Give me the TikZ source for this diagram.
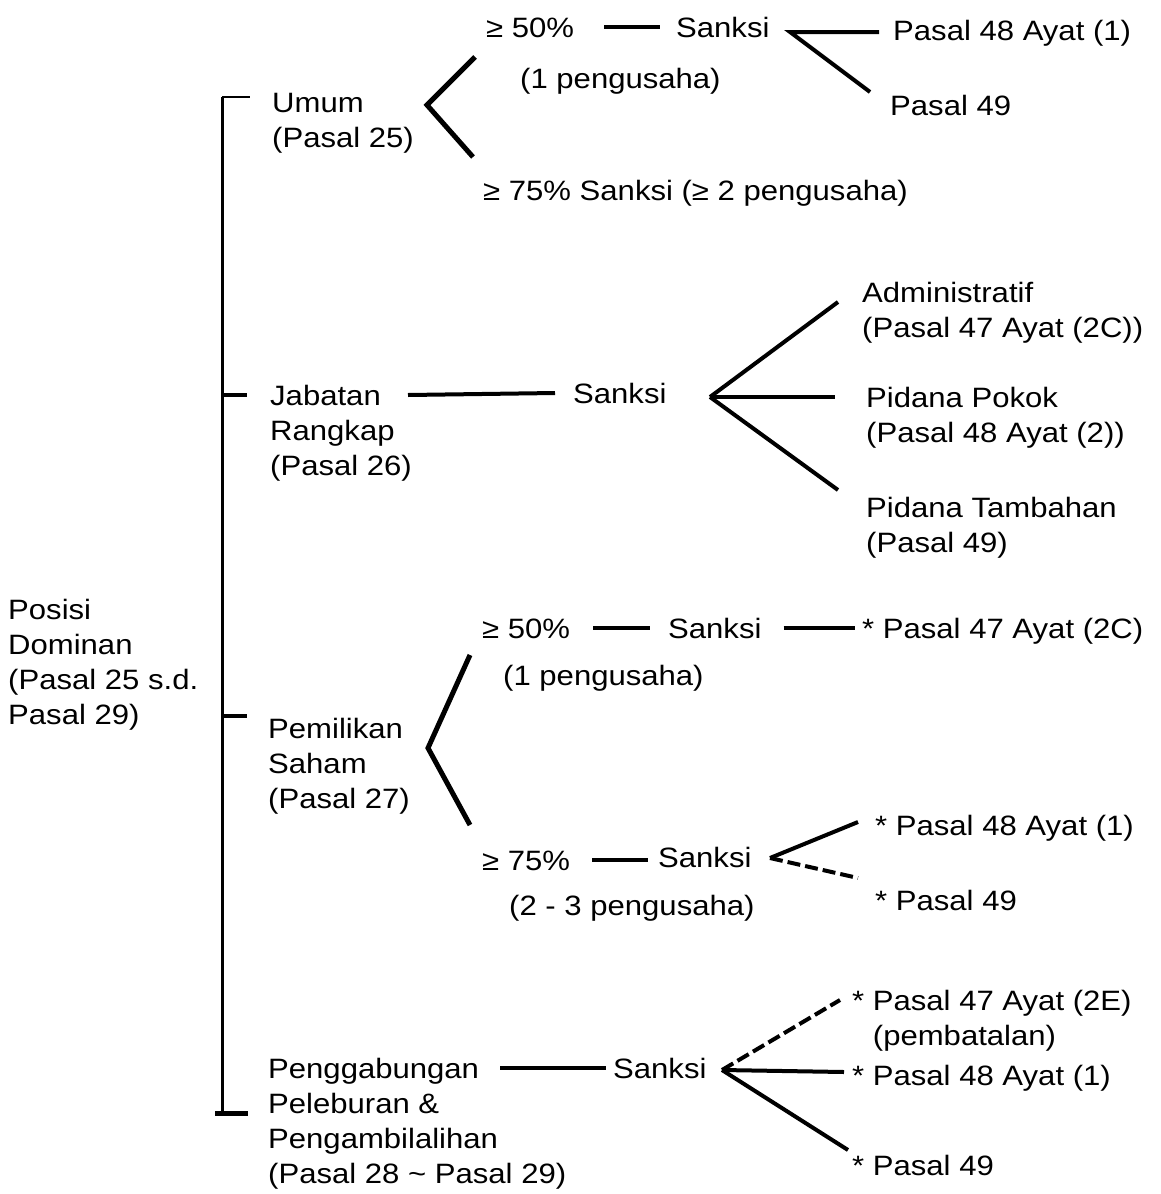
\documentclass[tikz,border=0pt]{standalone}
\usepackage{fontspec}
\setmainfont{Liberation Sans}[FakeStretch=1.11]
\begin{document}
\begin{tikzpicture}[x=1pt,y=-1pt,
    font=\fontsize{28}{35}\selectfont,
    txt/.style={anchor=base west,inner sep=0pt,align=left},
    ln/.style={line width=4pt},
    brk/.style={line width=5pt,line join=miter},
    brk2/.style={ln,dash pattern=on 13pt off 5pt}]
    \useasboundingbox (0,0) rectangle (1160,1194);

    % left column and trunk (multi-line nodes sit on their last baseline)
    \node[txt] (pos) at (8,724) {Posisi\\Dominan\\(Pasal 25 s.d.\\Pasal 29)};
    \coordinate (ttop) at (222,97);
    \coordinate (tbot) at (222,1113);
    \draw[line width=3pt] (ttop) -- (tbot);
    \draw[line width=2pt] (ttop) -- ++(28,0);
    \foreach \y in {395,716}{
        \draw[ln] (222,\y) -- ++(25,0);
    }
    \draw[brk] (tbot) ++(-7,0) -- ++(33,0);

    % Umum
    \node[txt] (umum) at (272,147) {Umum\\(Pasal 25)};
    \node[txt] (u50) at (486,37) {≥ 50\%};
    \node[txt] (u1p) at (520,88) {(1 pengusaha)};
    \node[txt] (usanksi) at (676,37) {Sanksi};
    \node[txt] (u48) at (893,40) {Pasal 48 Ayat (1)};
    \node[txt] (u49) at (890,115) {Pasal 49};
    \node[txt] (u75) at (483,200) {≥ 75\% Sanksi (≥ 2 pengusaha)};
    \coordinate (uapex) at (427,105);
    \draw[brk] ([shift={(-11,20)}]u50.base west) -- (uapex) -- ([shift={(-10,-43)}]u75.base west);
    \draw[ln] ([xshift=30pt]u50.east) -- ([xshift=-16pt]u50.east -| usanksi.west);
    \coordinate (usapex) at (790,32);
    \draw[ln] ([shift={(-14,-8)}]u48.base west) -- (usapex) -- ([shift={(-20,-23)}]u49.base west);

    % Jabatan Rangkap
    \node[txt] (jab) at (270,475) {Jabatan\\Rangkap\\(Pasal 26)};
    \node[txt] (jsanksi) at (573,403) {Sanksi};
    \node[txt] (jadm) at (862,337) {Administratif\\(Pasal 47 Ayat (2C))};
    \node[txt] (jpok) at (866,442) {Pidana Pokok\\(Pasal 48 Ayat (2))};
    \node[txt] (jtam) at (866,552) {Pidana Tambahan\\(Pasal 49)};
    \draw[ln] ([shift={(138,-80)}]jab.base west) -- ([shift={(-18,-10)}]jsanksi.base west);
    \coordinate (japex) at (710,397);
    \draw[ln] (japex) -- ([shift={(-24,-35)}]jadm.base west);
    \draw[ln] (japex) -- ([shift={(-31,-45)}]jpok.base west);
    \draw[ln] (japex) -- ([shift={(-28,-62)}]jtam.base west);

    % Pemilikan Saham
    \node[txt] (pem) at (268,808) {Pemilikan\\Saham\\(Pasal 27)};
    \node[txt] (p50) at (482,638) {≥ 50\%};
    \node[txt] (p1p) at (503,685) {(1 pengusaha)};
    \node[txt] (psanksia) at (668,638) {Sanksi};
    \node[txt] (p47) at (862,638) {* Pasal 47 Ayat (2C)};
    \node[txt] (p75) at (482,870) {≥ 75\%};
    \node[txt] (p3p) at (509,915) {(2 - 3 pengusaha)};
    \node[txt] (psanksib) at (658,867) {Sanksi};
    \node[txt] (p48) at (875,835) {* Pasal 48 Ayat (1)};
    \node[txt] (p49) at (875,910) {* Pasal 49};
    \coordinate (papex) at (428,748);
    \draw[brk] ([shift={(-12,17)}]p50.base west) -- (papex) -- ([shift={(-12,-45)}]p75.base west);
    \draw[ln] ([xshift=23pt]p50.east) -- ([xshift=-18pt]p50.east -| psanksia.west);
    \draw[ln] ([xshift=22pt]psanksia.east) -- ([xshift=-7pt]psanksia.east -| p47.west);
    \draw[ln] ([xshift=22pt]p75.east) -- ([xshift=-10pt]p75.east -| psanksib.west);
    \coordinate (psapex) at (770,858);
    \draw[ln] ([shift={(-17,-13)}]p48.base west) -- (psapex);
    \draw[brk2] (psapex) -- ([shift={(-17,-32)}]p49.base west);

    % Penggabungan
    \node[txt] (gab) at (268,1183) {Penggabungan\\Peleburan \&\\Pengambilalihan\\(Pasal 28 \textasciitilde{} Pasal 29)};
    \node[txt] (gsanksi) at (613,1078) {Sanksi};
    \node[txt] (g47) at (852,1045) {* Pasal 47 Ayat (2E)\\\phantom{* }(pembatalan)};
    \node[txt] (g48) at (852,1085) {* Pasal 48 Ayat (1)};
    \node[txt] (g49) at (852,1175) {* Pasal 49};
    \draw[ln] ([shift={(232,-115)}]gab.base west) -- ([shift={(-7,-10)}]gsanksi.base west);
    \coordinate (gapex) at (722,1070);
    \draw[brk2] (gapex) -- ([shift={(-12,-45)}]g47.base west);
    \draw[ln] (gapex) -- ([shift={(-8,-13)}]g48.base west);
    \draw[ln] (gapex) -- ([shift={(-4,-25)}]g49.base west);
\end{tikzpicture}
\end{document}
